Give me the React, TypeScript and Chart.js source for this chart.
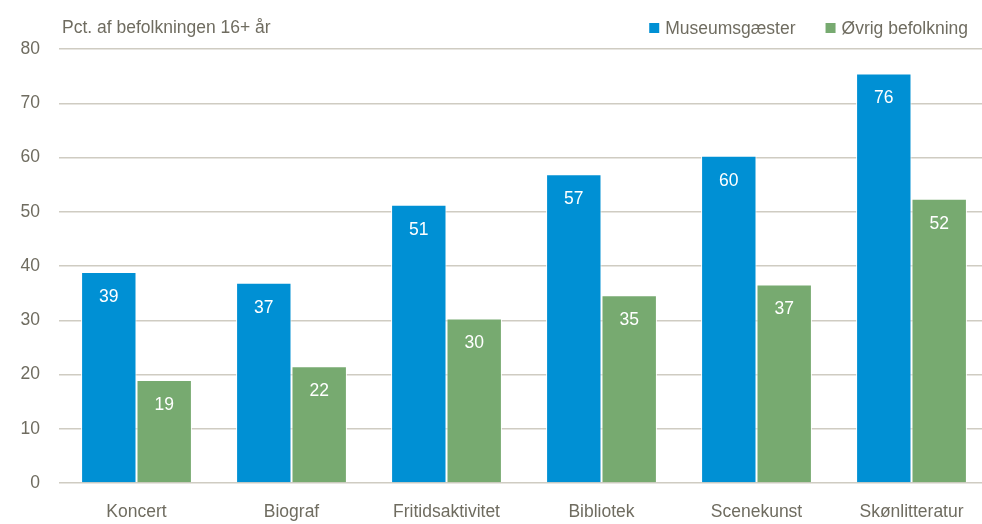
import React, { useEffect, useRef } from "react";
import { Chart, registerables } from "chart.js";

Chart.register(...registerables);

const categories = ["Koncert", "Biograf", "Fritidsaktivitet", "Bibliotek", "Scenekunst", "Skønlitteratur"];
const museumsgaester = [38.9, 36.9, 51.3, 56.9, 60.3, 75.5];
const oevrigBefolkning = [19.0, 21.5, 30.3, 34.6, 36.6, 52.4];
const seriesNames = ["Museumsgæster", "Øvrig befolkning"];
const axisTitle = "Pct. af befolkningen 16+ år";
const yMin = 0;
const yMax = 80;
const yStep = 10;

const BLUE = "#0090d4";
const GREEN = "#77aa70";
const TEXT = "#6f6c60";
const GRID = "#cfccc2";
const FONT = '"Liberation Sans", Arial, sans-serif';
const FS = 17.5;

const overlayPlugin = {
  id: "overlay",
  afterDatasetsDraw(chart: any) {
    const ctx = chart.ctx;
    ctx.save();
    ctx.font = `${FS}px ${FONT}`;
    // data labels
    ctx.fillStyle = "#ffffff";
    ctx.textAlign = "center";
    ctx.textBaseline = "middle";
    chart.data.datasets.forEach((ds: any, i: number) => {
      const meta = chart.getDatasetMeta(i);
      meta.data.forEach((el: any, j: number) => {
        const v = ds.data[j];
        ctx.fillText(String(Math.round(v)), el.x, el.y + 25);
      });
    });
    // axis title
    ctx.fillStyle = TEXT;
    ctx.textAlign = "left";
    ctx.textBaseline = "alphabetic";
    ctx.fillText(axisTitle, 62, 32.5);
    // legend
    const w1 = ctx.measureText(seriesNames[0]).width;
    const w2 = ctx.measureText(seriesNames[1]).width;
    const box = 10, gap = 6, between = 30;
    const total = box + gap + w1 + between + box + gap + w2;
    let x = 968 - total;
    const colors = [BLUE, GREEN];
    [w1, w2].forEach((w, i) => {
      ctx.fillStyle = colors[i];
      ctx.fillRect(x, 23, box, box);
      ctx.fillStyle = TEXT;
      ctx.fillText(seriesNames[i], x + box + gap, 34);
      x += box + gap + w + between;
    });
    ctx.restore();
  },
};

export default function App() {
  const ref = useRef<HTMLCanvasElement>(null);
  useEffect(() => {
    if (!ref.current) return;
    const chart = new Chart(ref.current, {
      type: "bar",
      data: {
        labels: categories,
        datasets: [
          {
            label: seriesNames[0],
            data: museumsgaester,
            backgroundColor: BLUE,
            borderColor: "#ffffff",
            borderWidth: 1,
            categoryPercentage: 0.715,
            barPercentage: 1,
          },
          {
            label: seriesNames[1],
            data: oevrigBefolkning,
            backgroundColor: GREEN,
            borderColor: "#ffffff",
            borderWidth: 1,
            categoryPercentage: 0.715,
            barPercentage: 1,
          },
        ],
      },
      options: {
        responsive: false,
        animation: false,
        devicePixelRatio: 1,
        layout: { padding: { top: 49, left: 0, right: 0, bottom: 1 } },
        plugins: {
          legend: { display: false },
          title: { display: false },
          tooltip: { enabled: false },
        },
        scales: {
          x: {
            grid: { display: false, drawTicks: false },
            border: { display: false },
            ticks: { color: TEXT, font: { family: FONT, size: FS }, padding: 19, maxRotation: 0 },
            afterFit: (s: any) => { s.height = 40; },
          },
          y: {
            min: yMin,
            max: yMax,
            grid: { color: GRID, lineWidth: 1.5, drawTicks: false },
            border: { display: false },
            ticks: { stepSize: yStep, color: TEXT, font: { family: FONT, size: FS }, padding: 19 },
            afterFit: (s: any) => { s.width = 59; },
          },
        },
      },
      plugins: [overlayPlugin],
    });
    return () => chart.destroy();
  }, []);
  return (
    <div style={{ position: "absolute", left: 0, top: 0, width: 982, height: 524, overflow: "hidden", background: "#fff" }}>
      <canvas ref={ref} width={989} height={524} style={{ width: 989, height: 524 }} />
    </div>
  );
}
